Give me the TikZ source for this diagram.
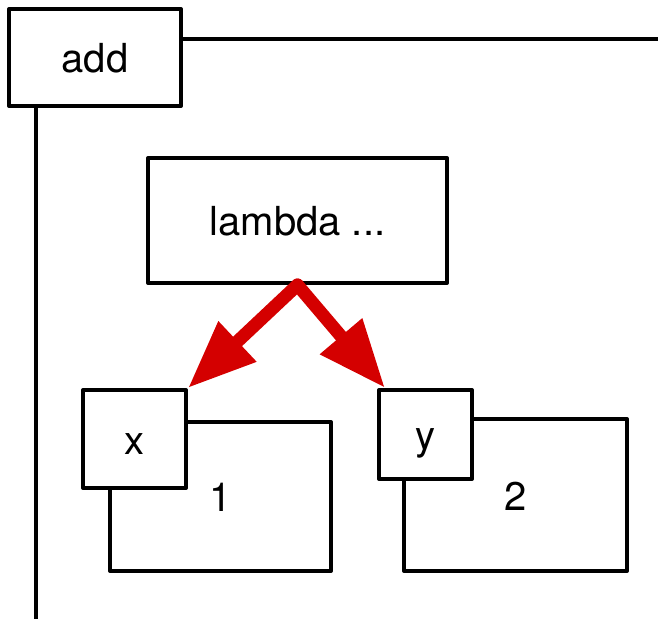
\documentclass[tikz,border=0pt]{standalone}
\usepackage{fontspec}
\setmainfont{TeX Gyre Heros}
\usetikzlibrary{arrows.meta}
\definecolor{arrowred}{RGB}{212,0,0}
\begin{document}
\begin{tikzpicture}[x=1pt,y=-1pt,
  box/.style={draw=black, line width=4pt, fill=white, inner sep=0pt,
    font=\fontsize{40}{48}\selectfont, text height=31pt, text depth=1pt,
    line join=round},
  frameline/.style={draw=black, line width=4pt},
  link/.style={draw=arrowred, line width=13pt, line cap=round,
    -{Triangle[length=68pt,width=52pt]}}
]
\useasboundingbox (0,0) rectangle (658,618);
% frame
\node[box, minimum width=172pt, minimum height=97pt] (add) at (95,57.5) {add};
\coordinate (fr) at (660,39);
\coordinate (fb) at (36,620);
\draw[frameline] (add.east |- fr) -- (fr);
\draw[frameline] (add.south -| fb) -- (fb);
% lambda
\node[box, minimum width=299pt, minimum height=125pt] (lam) at (297.5,220.5) {lambda ...};
% value boxes
\node[box, minimum width=221pt, minimum height=149pt] (xv) at (220.5,496.5) {1};
\node[box, minimum width=223pt, minimum height=152pt] (yv) at (515.5,495) {2};
% key boxes
\node[box, minimum width=103pt, minimum height=98pt] (xk) at (134.5,439) {x};
\node[box, minimum width=93pt, minimum height=89pt] (yk) at (425.5,434.5) {y};
% connectors
\draw[link] (lam.south) -- (xk.north east);
\draw[link] (lam.south) -- ([xshift=8pt]yk.north west);
\end{tikzpicture}
\end{document}
